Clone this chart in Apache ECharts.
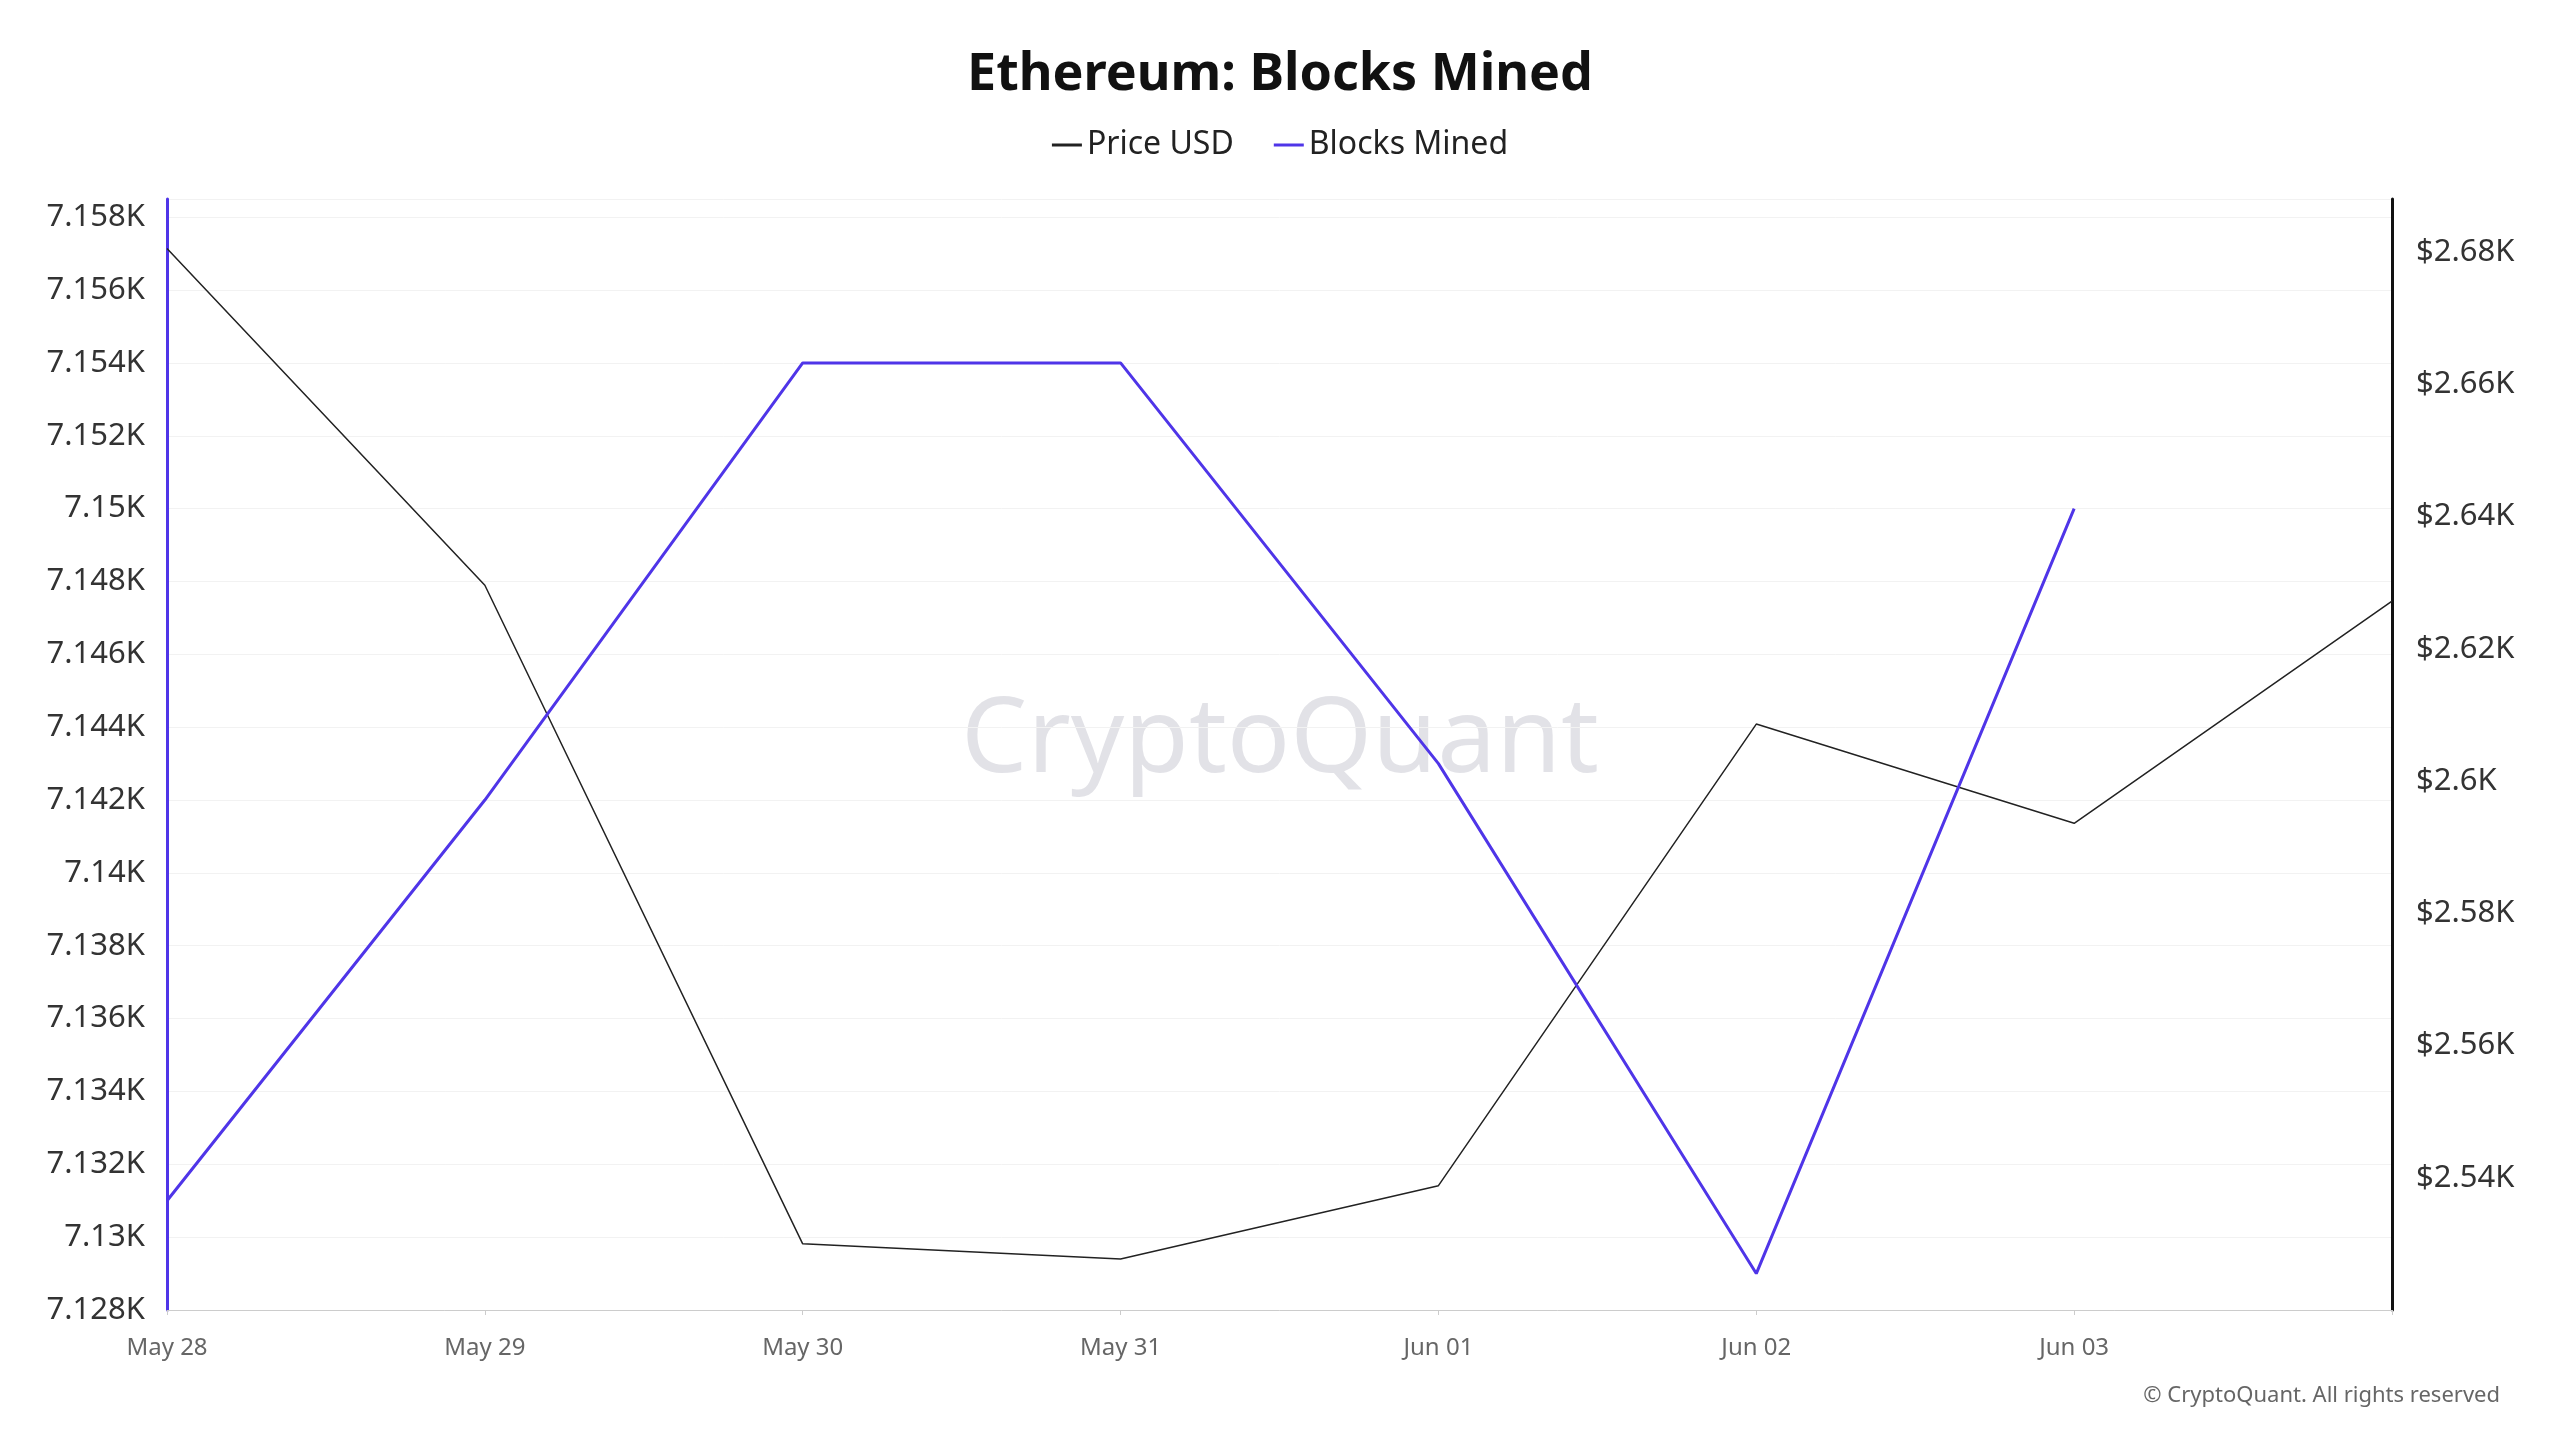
<!DOCTYPE html>
<html>
<head>
<meta charset="utf-8">
<script src="https://cdn.jsdelivr.net/npm/echarts@6/dist/echarts.min.js"></script>
<style>
  html, body { margin: 0; padding: 0; background: #fff; }
  #chart { width: 2560px; height: 1440px; }
</style>
</head>
<body>
<div id="chart"></div>
<script>
// Datos
const categories = ['May 28', 'May 29', 'May 30', 'May 31', 'Jun 01', 'Jun 02', 'Jun 03', 'Jun 04'];
const blocksMined = [7131, 7142, 7154, 7154, 7143, 7129, 7150, null];
const priceUsd = [2680.5, 2629.6, 2530, 2527.7, 2538.8, 2608.6, 2593.6, 2627.2];

var myChart = echarts.init(document.getElementById('chart'));

var option = {
    backgroundColor: '#fff',
    title: {
        text: 'Ethereum: Blocks Mined',
        left: 'center',
        top: 44,
        textStyle: { fontSize: 52, fontWeight: 'bold', color: '#111', fontFamily: 'Noto Sans' }
    },
    legend: {
        top: 124,
        left: 'center',
        itemWidth: 30,
        itemHeight: 3,
        itemGap: 40,
        icon: 'rect',
        textStyle: { fontSize: 32, color: '#222', fontFamily: 'Noto Sans' },
        data: ['Price USD', 'Blocks Mined']
    },
    graphic: [
        {
            type: 'text', left: 'center', top: 690,
            style: { text: 'CryptoQuant', fontSize: 105, fontWeight: 'normal', fill: 'rgba(110,110,135,0.2)', fontFamily: 'Noto Sans' }
        },
        {
            type: 'text', right: 60, top: 1385,
            style: { text: '© CryptoQuant. All rights reserved', fontSize: 22, fill: '#666', fontFamily: 'Noto Sans' }
        }
    ],
    grid: { left: 167, right: 168, top: 199, bottom: 130 },
    xAxis: {
        type: 'category',
        data: categories,
        boundaryGap: false,
        axisLine: { lineStyle: { color: '#ccc' } },
        axisTick: { show: true, lineStyle: { color: '#ccc' } },
        axisLabel: {
            fontSize: 24, color: '#666', margin: 26, fontFamily: 'Noto Sans',
            formatter: function (v, i) { return i === categories.length - 1 ? '' : v; }
        }
    },
    yAxis: [
        {
            type: 'value', position: 'left',
            min: 7128, max: 7158.5, interval: 2,
            axisLine: { show: true, lineStyle: { color: '#4f35e8', width: 3 } },
            splitLine: { lineStyle: { color: '#f2f2f2' } },
            axisLabel: {
                fontSize: 31, color: '#333', margin: 22, fontFamily: 'Noto Sans',
                formatter: function (v) { return (v / 1000) + 'K'; }
            }
        },
        {
            type: 'value', position: 'right',
            min: 2520, max: 2688, interval: 20,
            axisLine: { show: true, lineStyle: { color: '#111', width: 3 } },
            splitLine: { show: false },
            axisLabel: {
                fontSize: 31, color: '#333', margin: 24, fontFamily: 'Noto Sans',
                showMinLabel: false, showMaxLabel: false,
                formatter: function (v) { return '$' + (v / 1000) + 'K'; }
            }
        }
    ],
    series: [
        {
            name: 'Price USD', type: 'line', yAxisIndex: 1,
            data: priceUsd, symbol: 'none',
            lineStyle: { color: '#222', width: 1.5 }, itemStyle: { color: '#222' }
        },
        {
            name: 'Blocks Mined', type: 'line', yAxisIndex: 0,
            data: blocksMined, symbol: 'none',
            lineStyle: { color: '#4f35e8', width: 3 }, itemStyle: { color: '#4f35e8' }
        }
    ]
};

myChart.setOption(option);
</script>
</body>
</html>
